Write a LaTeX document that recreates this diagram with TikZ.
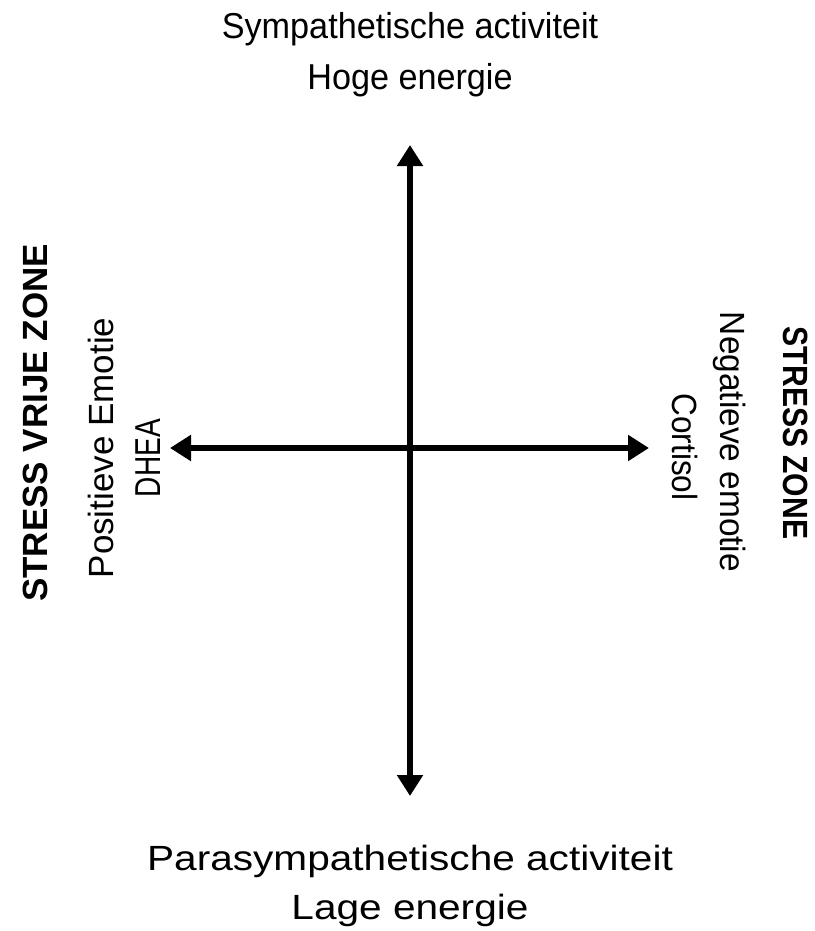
\documentclass[tikz,border=0pt]{standalone}
\usepackage{fontspec}
\setmainfont{Liberation Sans}
\newfontfamily\narrowfont[FakeStretch=0.95]{Liberation Sans}
\newfontfamily\widefont[FakeStretch=1.16]{Liberation Sans}
\newfontfamily\slimfont[FakeStretch=0.955]{Liberation Sans}
\newfontfamily\tightfont[FakeStretch=0.9]{Liberation Sans}
\newfontfamily\thinfont[FakeStretch=0.86]{Liberation Sans}
\newfontfamily\squeezefont[FakeStretch=0.78]{Liberation Sans}
\usetikzlibrary{arrows.meta}

\begin{document}
\begin{tikzpicture}[x=1pt,y=-1pt,
  axis/.style={line width=6.5pt,{Triangle[width=25pt,length=21pt]}-{Triangle[width=25pt,length=21pt]}},
  caption/.style={inner sep=0pt,anchor=base,font=\fontsize{35}{42}\selectfont},
  zone/.style={caption,font=\fontsize{35}{42}\selectfont\bfseries}]
\useasboundingbox (0,0) rectangle (814,931);
\coordinate (top) at (410,145);
\coordinate (bottom) at (410,796);
\coordinate (west) at (170,448);
\coordinate (east) at (649,448);
\draw[axis] (bottom) -- (top);
\draw[axis] (west) -- (east);
% top and bottom
\node[caption,font=\fontsize{36}{42}\narrowfont] (high) at (410,39) {Sympathetische activiteit};
\node[caption,font=\fontsize{36}{42}\narrowfont] (energy) at (410,90) {Hoge energie};
\node[caption,font=\fontsize{35}{42}\widefont] (low) at (410,870) {Parasympathetische activiteit};
\node[caption,font=\fontsize{35}{42}\widefont] (rest) at (410,919) {Lage energie};
% left side
\node[zone,rotate=90] (calm) at (47,423) {STRESS VRIJE ZONE};
\node[caption,rotate=90] (positive) at (113,448) {Positieve Emotie};
\node[caption,rotate=90,font=\fontsize{36}{42}\squeezefont] (dhea) at (160,458) {DHEA};
% right side
\node[zone,rotate=-90,font=\fontsize{35}{42}\thinfont\bfseries] (stress) at (783,433) {STRESS ZONE};
\node[caption,rotate=-90,font=\fontsize{35}{42}\slimfont] (negative) at (720,442) {Negatieve emotie};
\node[caption,rotate=-90,font=\fontsize{35}{42}\tightfont] (cortisol) at (672,447) {Cortisol};
\end{tikzpicture}
\end{document}
